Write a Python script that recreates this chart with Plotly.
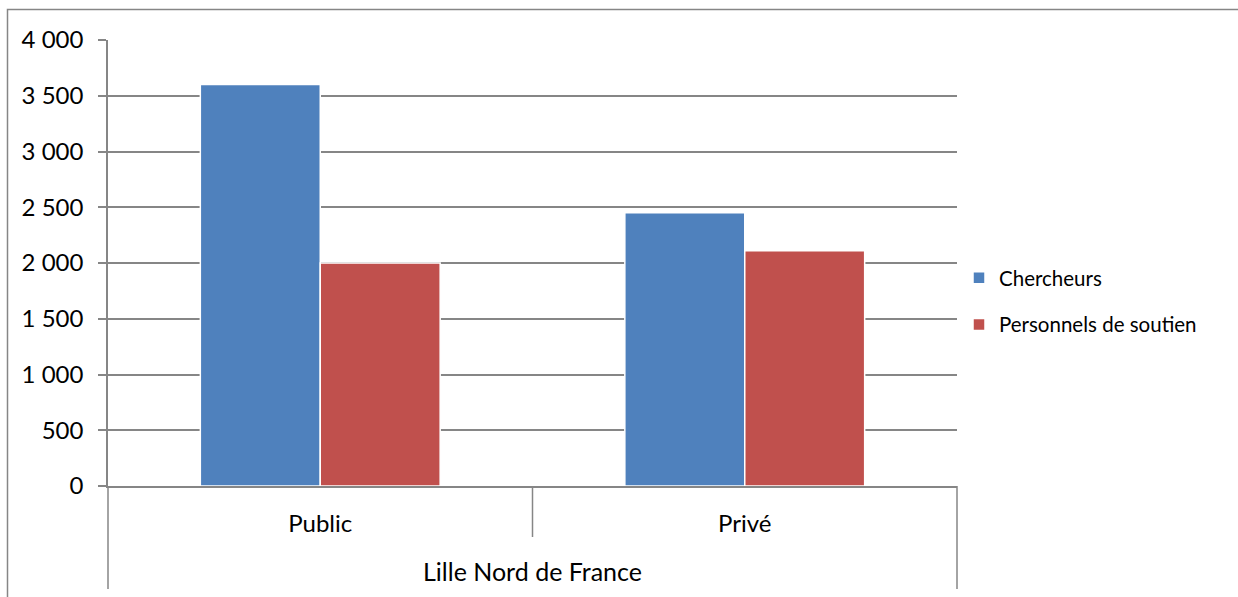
import plotly.graph_objects as go

categories = ["Public", "Privé"]
chercheurs = [3600, 2450]
personnels = [2000, 2110]
series_names = ["Chercheurs", "Personnels de soutien"]
colors = ["#4F81BD", "#C0504D"]
y_ticks = [0, 500, 1000, 1500, 2000, 2500, 3000, 3500, 4000]
group_title = "Lille Nord de France"

FONT = "Lato"
AXIS_GREY = "#868686"

fig = go.Figure()
for name, vals, col, grp in zip(series_names, [chercheurs, personnels], colors, ["a", "b"]):
    fig.add_trace(go.Bar(
        x=categories, y=vals, name=name, legendgroup=grp,
        marker=dict(color=col, line=dict(color="white", width=1.5)),
    ))

# plot-area metrics for extending axis lines below the category labels
W, H = 1238, 597
ml, mr, mt, mb = 108, 281, 40, 111
pw, ph = W - ml - mr, H - mt - mb

def px_y(py):
    return (H - mb - py) / ph

def px_x(px):
    return (px - ml) / pw

line = dict(color=AXIS_GREY, width=1.5)
shapes = [
    # left and right category-axis borders
    dict(type="line", xref="paper", yref="paper", x0=0, x1=0, y0=0, y1=px_y(589), line=line),
    dict(type="line", xref="paper", yref="paper", x0=1, x1=1, y0=0, y1=px_y(589), line=line),
    # divider between the two categories
    dict(type="line", xref="paper", yref="paper", x0=0.5, x1=0.5, y0=0, y1=px_y(537), line=line),
    # outer chart frame
    dict(type="rect", xref="paper", yref="paper", x0=px_x(7.5), x1=px_x(1300),
         y0=px_y(700), y1=px_y(9.5), line=dict(color=AXIS_GREY, width=1.5)),
]

fig.update_layout(
    width=W, height=H,
    margin=dict(l=ml, r=mr, t=mt, b=mb),
    paper_bgcolor="white", plot_bgcolor="white",
    separators=", ",
    barmode="group", bargap=0.435, bargroupgap=0.0,
    font=dict(family=FONT, size=23, color="#000000"),
    shapes=shapes,
    showlegend=True,
    legend=dict(
        x=px_x(959), y=px_y(258), xanchor="left", yanchor="top",
        traceorder="grouped", tracegroupgap=17,
        font=dict(family=FONT, size=20.5, color="#000000"),
        bgcolor="rgba(0,0,0,0)", itemwidth=30,
    ),
    xaxis=dict(
        type="category", showline=True, linecolor=AXIS_GREY, linewidth=1.5,
        showgrid=False, ticks="", ticklabelstandoff=15,
        tickfont=dict(family=FONT, size=24),
        title=dict(text=group_title, font=dict(family=FONT, size=25), standoff=28),
    ),
    yaxis=dict(
        range=[0, 4000], tickvals=y_ticks, tickformat=",d",
        showline=True, linecolor=AXIS_GREY, linewidth=1.5,
        showgrid=True, gridcolor=AXIS_GREY, gridwidth=1.5,
        ticks="outside", ticklen=8, tickcolor=AXIS_GREY, tickwidth=1.5,
        ticklabelstandoff=10, zeroline=False,
        tickfont=dict(family=FONT, size=24),
    ),
)

fig.write_html("out.html")
